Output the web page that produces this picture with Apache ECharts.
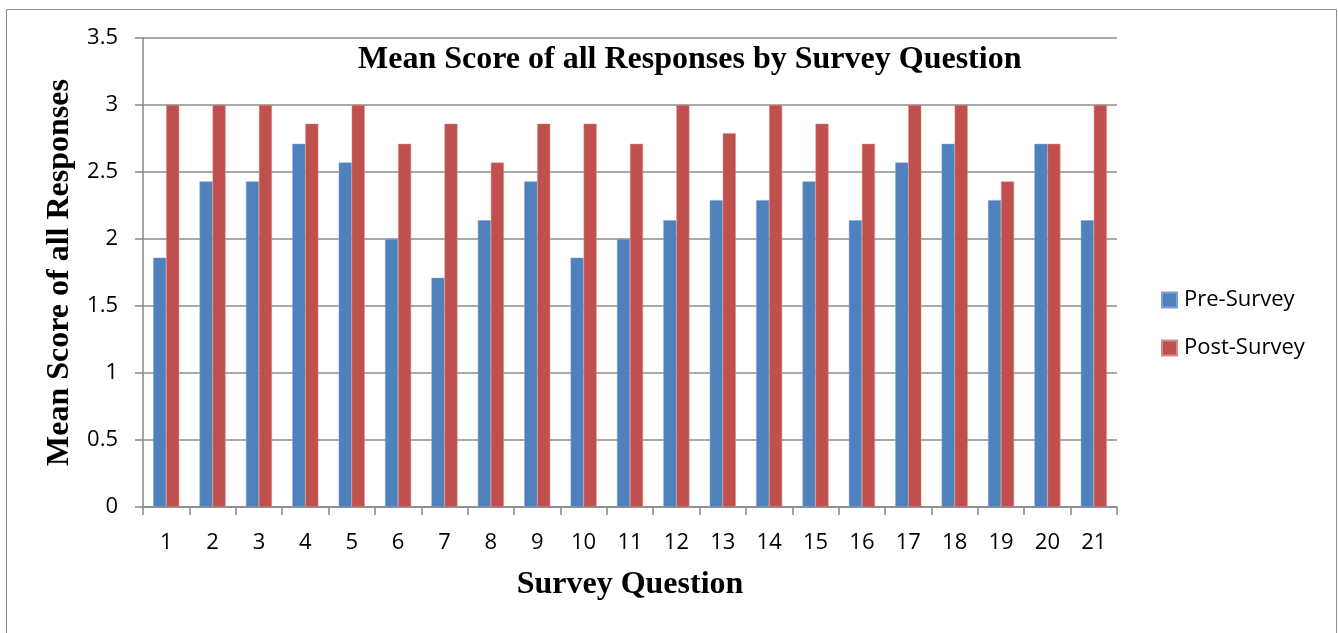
<!DOCTYPE html>
<html>
<head>
<meta charset="utf-8">
<script src="https://cdn.jsdelivr.net/npm/echarts@6/dist/echarts.min.js"></script>
<style>
html,body{margin:0;padding:0;background:#fff;}
#chart{width:1338px;height:633px;}
</style>
</head>
<body>
<div id="chart"></div>
<script>
const categories = ['1','2','3','4','5','6','7','8','9','10','11','12','13','14','15','16','17','18','19','20','21'];
const preSurvey = [1.86,2.43,2.43,2.71,2.57,2.00,1.71,2.14,2.43,1.86,2.00,2.14,2.29,2.29,2.43,2.14,2.57,2.71,2.29,2.71,2.14];
const postSurvey = [3.00,3.00,3.00,2.86,3.00,2.71,2.86,2.57,2.86,2.86,2.71,3.00,2.79,3.00,2.86,2.71,3.00,3.00,2.43,2.71,3.00];
const yTicks = [0,0.5,1,1.5,2,2.5,3,3.5];

const chart = echarts.init(document.getElementById('chart'));
const labelFont = '"Open Sans", "Noto Sans", sans-serif';
const serif = '"Liberation Serif", "DejaVu Serif", serif';
chart.setOption({
  animation: false,
  backgroundColor: '#ffffff',
  graphic: [{
    type: 'rect',
    shape: {x: 6.5, y: 9.5, width: 1330, height: 640},
    style: {fill: 'none', stroke: '#8c8c8c', lineWidth: 1},
    silent: true
  }],
  title: {
    text: 'Mean Score of all Responses by Survey Question',
    left: 353,
    top: 39,
    textStyle: {fontFamily: serif, fontWeight: 'bold', fontSize: 32, color: '#000'}
  },
  legend: {
    orient: 'vertical',
    left: 1161,
    top: 289,
    padding: 0,
    itemWidth: 15,
    itemHeight: 15,
    itemGap: 26,
    icon: 'rect',
    textStyle: {fontFamily: labelFont, fontSize: 22, color: '#000', padding: [0,0,0,2]},
    data: ['Pre-Survey','Post-Survey']
  },
  grid: {left: 143, right: 221, top: 38, bottom: 126, containLabel: false},
  xAxis: {
    type: 'category',
    data: categories,
    name: 'Survey Question',
    nameLocation: 'middle',
    nameGap: 62,
    nameTextStyle: {fontFamily: serif, fontWeight: 'bold', fontSize: 32, color: '#000'},
    axisLine: {lineStyle: {color: '#868686', width: 1.5}},
    axisTick: {show: true, alignWithLabel: false, length: 8, lineStyle: {color: '#868686', width: 1.5}},
    axisLabel: {fontFamily: labelFont, fontSize: 22, color: '#000', margin: 25, interval: 0},
    splitLine: {show: false}
  },
  yAxis: {
    type: 'value',
    min: 0,
    max: 3.5,
    interval: 0.5,
    name: 'Mean Score of all Responses',
    nameLocation: 'middle',
    nameGap: 64,
    nameTextStyle: {fontFamily: serif, fontWeight: 'bold', fontSize: 32, color: '#000'},
    axisLine: {show: true, lineStyle: {color: '#868686', width: 1.5}},
    axisTick: {show: true, length: 8, lineStyle: {color: '#868686', width: 1.5}},
    axisLabel: {fontFamily: labelFont, fontSize: 22, color: '#000', margin: 25,
      formatter: v => String(v)},
    splitLine: {show: true, lineStyle: {color: '#8c8c8c', width: 1.5}}
  },
  series: [
    {name: 'Pre-Survey', type: 'bar', data: preSurvey, barWidth: 13, barGap: '0%',
     itemStyle: {color: '#4F81BD', borderColor: '#7ea3d1', borderWidth: 0.5}},
    {name: 'Post-Survey', type: 'bar', data: postSurvey, barWidth: 13, barGap: '0%',
     itemStyle: {color: '#C0504D', borderColor: '#d88a88', borderWidth: 0.5}}
  ]
});
</script>
</body>
</html>
